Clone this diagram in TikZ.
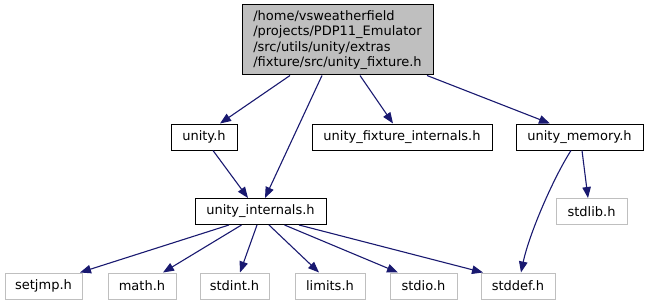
\documentclass[tikz,border=0pt]{standalone}
\usepackage{fontspec}
\setmainfont{DejaVu Sans}
\usepackage{xcolor}
\usetikzlibrary{arrows.meta}
\definecolor{edgeblue}{HTML}{191970}
\definecolor{boxgray}{HTML}{BFBFBF}

\begin{document}
\begin{tikzpicture}[x=1pt, y=-1pt,
  font=\fontsize{13}{15.5}\selectfont,
  mainfile/.style={draw=black, fill=boxgray, line width=1pt, inner sep=0pt, align=left},
  hdr/.style={draw=black, line width=1pt, inner sep=0pt, minimum height=26pt},
  sys/.style={draw=boxgray, line width=1pt, inner sep=0pt, minimum height=26pt},
  inc/.style={draw=edgeblue, line width=1.1pt, -{Triangle[length=11pt,width=8.5pt]}}]
  \useasboundingbox (0,0) rectangle (648,305);

  % the header itself
  \node[mainfile, minimum width=191pt, minimum height=70pt] (fixture) at (337.5,40)
    {/home/vsweatherfield\\/projects/PDP11\_Emulator\\/src/utils/unity/extras\\/fixture/src/unity\_fixture.h};

  % project headers
  \node[hdr, minimum width=66pt]  (unityh)    at (204,137)   {unity.h};
  \node[hdr, minimum width=180pt] (fixint)    at (402,137)   {unity\_fixture\_internals.h};
  \node[hdr, minimum width=127pt] (memory)    at (579.5,137) {unity\_memory.h};
  \node[hdr, minimum width=131pt] (internals) at (260.5,211.5) {unity\_internals.h};

  % system headers
  \node[sys, minimum width=71pt] (stdlib) at (591.5,211.5) {stdlib.h};
  \node[sys, minimum width=77pt] (setjmp) at (43.5,286)  {setjmp.h};
  \node[sys, minimum width=68pt] (math)   at (142,286)   {math.h};
  \node[sys, minimum width=69pt] (stdint) at (234.5,286) {stdint.h};
  \node[sys, minimum width=70pt] (limits) at (330,286)   {limits.h};
  \node[sys, minimum width=67pt] (stdio)  at (423.5,286) {stdio.h};
  \node[sys, minimum width=74pt] (stddef) at (518,286)   {stddef.h};

  \draw[inc] ([xshift=-47.5pt]fixture.south) -- ([xshift=16pt]unityh.north);
  \draw[inc] ([xshift=-15.5pt]fixture.south) -- ([xshift=4.5pt]internals.north);
  \draw[inc] ([xshift=22.5pt]fixture.south)  -- ([xshift=-9pt]fixint.north);
  \draw[inc] ([xshift=89.5pt]fixture.south)  -- ([xshift=-29.5pt]memory.north);

  \draw[inc] ([xshift=9pt]unityh.south) -- ([xshift=-12.5pt]internals.north);

  \draw[inc] ([xshift=2.5pt]memory.south) -- ([xshift=-3.5pt]stdlib.north);
  \draw[inc] ([xshift=-8.5pt]memory.south) .. controls +(-18,28) and +(8,-38) .. ([xshift=3pt]stddef.north);

  \draw[inc] ([xshift=-31.5pt]internals.south) -- ([xshift=36.5pt]setjmp.north);
  \draw[inc] ([xshift=-19pt]internals.south)   -- ([xshift=21pt]math.north);
  \draw[inc] ([xshift=-3.5pt]internals.south)  -- ([xshift=5.5pt]stdint.north);
  \draw[inc] ([xshift=8.5pt]internals.south)   -- ([xshift=-11pt]limits.north);
  \draw[inc] ([xshift=24pt]internals.south)    -- ([xshift=-25.5pt]stdio.north);
  \draw[inc] ([xshift=38.5pt]internals.south)  -- ([xshift=-35pt]stddef.north);
\end{tikzpicture}
\end{document}
